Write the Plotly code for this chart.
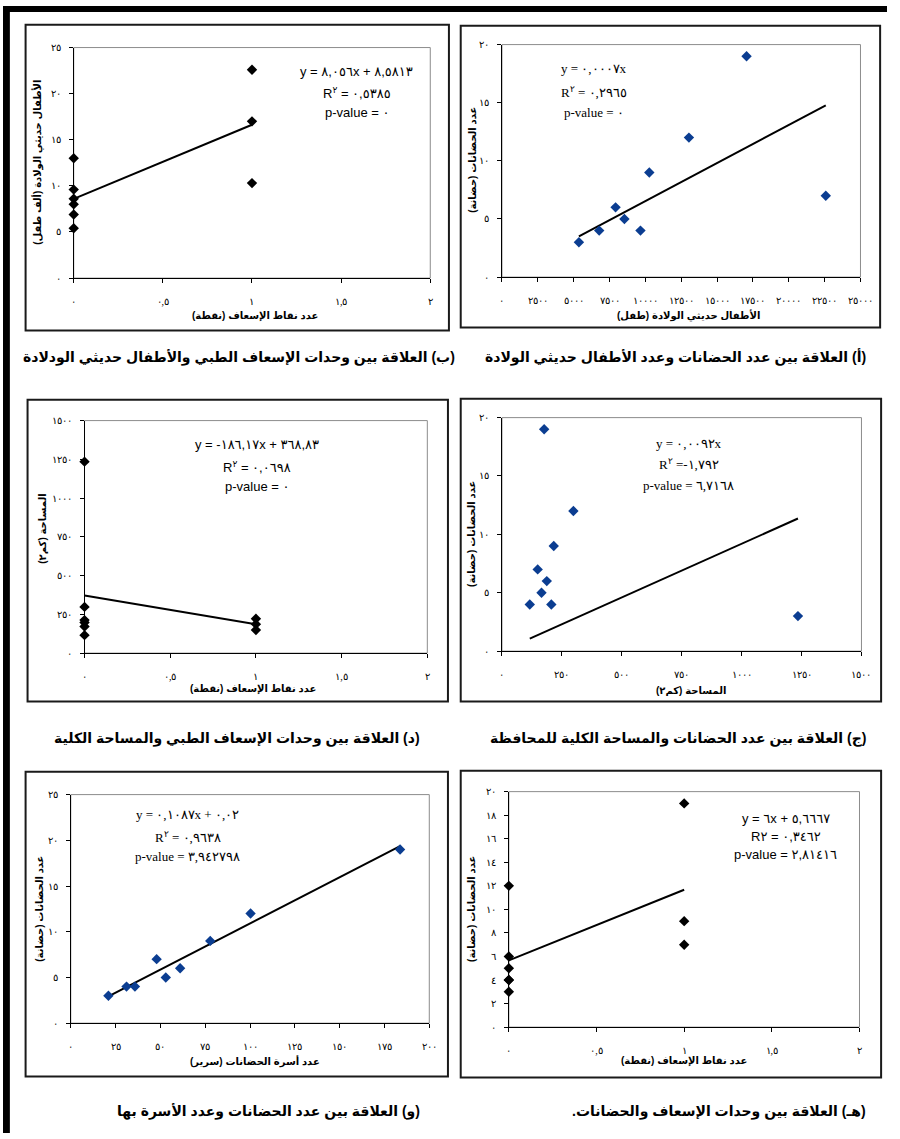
import numpy as np
import plotly.graph_objects as go

W, H = 900, 1139

# ---------------- data ----------------
# (أ) nurseries vs newborns
newborns_a = [5365, 6781, 7922, 8539, 9658, 10274, 13037, 17055, 22580]
nurseries_a = [3, 4, 6, 5, 4, 9, 12, 19, 7]
# (ب) ambulance points vs newborns (thousand)
ambulance_b = [0, 0, 0, 0, 0, 0, 1, 1, 1]
newborns_b = [13.0, 9.6, 8.6, 8.0, 6.9, 5.4, 22.6, 17.0, 10.3]
# (ج) nurseries vs area
area_c = [116, 149, 165, 176, 187, 206, 216, 298, 1235]
nurseries_c = [4, 7, 5, 19, 6, 4, 9, 12, 3]
# (د) ambulance points vs area
ambulance_d = [0, 0, 0, 0, 0, 0, 1, 1, 1]
area_d = [1235, 298, 213, 198, 172, 116, 222, 187, 149]
# (هـ) ambulance points vs nurseries
ambulance_e = [0, 0, 0, 0, 0, 0, 1, 1, 1]
nurseries_e = [12, 6, 5, 4, 4, 3, 19, 9, 7]
# (و) nurseries vs beds
beds_f = [21.0, 31.1, 35.8, 47.9, 53.0, 61.0, 77.8, 100.3, 183.7]
nurseries_f = [3, 4, 4, 7, 5, 6, 9, 12, 19]

# tick values / labels
ticks_newborns = [0, 2500, 5000, 7500, 10000, 12500, 15000, 17500, 20000, 22500, 25000]
labels_newborns = ["٠", "٢٥٠٠", "٥٠٠٠", "٧٥٠٠", "١٠٠٠٠", "١٢٥٠٠", "١٥٠٠٠", "١٧٥٠٠", "٢٠٠٠٠", "٢٢٥٠٠", "٢٥٠٠٠"]
ticks_amb = [0, 0.5, 1, 1.5, 2]
labels_amb = ["٠", "٠,٥", "١", "١,٥", "٢"]
ticks_20 = [0, 5, 10, 15, 20]
labels_20 = ["٠", "٥", "١٠", "١٥", "٢٠"]
ticks_25 = [0, 5, 10, 15, 20, 25]
labels_25 = ["٠", "٥", "١٠", "١٥", "٢٠", "٢٥"]
ticks_area = [0, 250, 500, 750, 1000, 1250, 1500]
labels_area = ["٠", "٢٥٠", "٥٠٠", "٧٥٠", "١٠٠٠", "١٢٥٠", "١٥٠٠"]
ticks_20b = [0, 2, 4, 6, 8, 10, 12, 14, 16, 18, 20]
labels_20b = ["٠", "٢", "٤", "٦", "٨", "١٠", "١٢", "١٤", "١٦", "١٨", "٢٠"]
ticks_beds = [0, 25, 50, 75, 100, 125, 150, 175, 200]
labels_beds = ["٠", "٢٥", "٥٠", "٧٥", "١٠٠", "١٢٥", "١٥٠", "١٧٥", "٢٠٠"]

# texts
RLM = "\u200f"
LRM = "\u200e"


def rtl(s):
    return RLM + s + RLM


captions = {
    "a": "(أ) العلاقة بين عدد الحضانات وعدد الأطفال حديثي الولادة",
    "b": "(ب) العلاقة بين وحدات الإسعاف الطبي والأطفال حديثي الودلادة",
    "c": "(ج) العلاقة بين عدد الحضانات والمساحة الكلية للمحافظة",
    "d": "(د) العلاقة بين وحدات الإسعاف الطبي والمساحة الكلية",
    "e": "(هـ) العلاقة بين وحدات الإسعاف والحضانات.",
    "f": "(و) العلاقة بين عدد الحضانات وعدد الأسرة بها",
}

BLUE = "#0B3D91"
SERIF = "Liberation Serif, Times New Roman, DejaVu Serif"
SANS = "Liberation Sans, Arial, DejaVu Sans"

panels = [
    dict(key="a", x=newborns_a, y=nurseries_a, origin=True, color=BLUE,
         plot=(508, 39, 873, 274), box=(466, 20, 893, 325),
         xr=25000, xt=ticks_newborns, xl=labels_newborns, yr=20, yt=ticks_20, yl=labels_20,
         xtitle="الأطفال حديثي الولادة (طفل)", xtpos=(698, 313),
         ytitle="عدد الحضانات (حضانة)", ytpos=(478, 156),
         eq=["y = ٠,٠٠٠٧x", "R<sup>٢</sup>" + LRM + " = ٠,٢٩٦٥", "p-value = ٠"],
         eqx=602, eqy=[63, 87, 108], eqfont=SERIF,
         cap_right=881, cap_y=355),
    dict(key="b", x=ambulance_b, y=newborns_b, origin=False, color="black",
         plot=(72, 42, 435, 275), box=(23, 19, 454, 328),
         xr=2, xt=ticks_amb, xl=labels_amb, yr=25, yt=ticks_25, yl=labels_25,
         xtitle="عدد نقاط الإسعاف (نقطة)", xtpos=(257, 313),
         ytitle="الأطفال حديثي الولادة (ألف طفل)", ytpos=(35, 158),
         eq=["y = ٨,٠٥٦x + ٨,٥٨١٣", "R<sup>٢</sup>" + LRM + " = ٠,٥٣٨٥", "p-value = ٠"],
         eqx=360, eqy=[66, 88, 108], eqfont=SANS,
         cap_right=462, cap_y=355),
    dict(key="c", x=area_c, y=nurseries_c, origin=True, color=BLUE,
         plot=(508, 416, 874, 652), box=(466, 397, 894, 703),
         xr=1500, xt=ticks_area, xl=labels_area, yr=20, yt=ticks_20, yl=labels_20,
         xtitle="المساحة (كم٢)", xtpos=(700, 692),
         ytitle="عدد الحضانات (حضانة)", ytpos=(477, 534),
         eq=["y = ٠,٠٠٩٢x", "R<sup>٢</sup>" + LRM + " =-١,٧٩٢", "p-value = ٦,٧١٦٨"],
         eqx=698, eqy=[442, 463, 485], eqfont=SERIF,
         cap_right=881, cap_y=740),
    dict(key="d", x=ambulance_d, y=area_d, origin=False, color="black",
         plot=(83, 419, 432, 654), box=(25, 398, 453, 703),
         xr=2, xt=ticks_amb, xl=labels_amb, yr=1500, yt=ticks_area, yl=labels_area,
         xtitle="عدد نقاط الإسعاف (نقطة)", xtpos=(255, 690),
         ytitle="المساحة (كم٢)", ytpos=(40, 528),
         eq=["y = -١٨٦,١٧x + ٣٦٨,٨٣", "R<sup>٢</sup>" + LRM + " = ٠,٠٦٩٨", "p-value = ٠"],
         eqx=259, eqy=[443, 466, 486], eqfont=SANS,
         cap_right=427, cap_y=740),
    dict(key="e", x=ambulance_e, y=nurseries_e, origin=False, color="black",
         plot=(515, 794, 872, 1032), box=(466, 773, 894, 1083),
         xr=2, xt=ticks_amb, xl=labels_amb, yr=20, yt=ticks_20b, yl=labels_20b,
         xtitle="عدد نقاط الإسعاف (نقطة)", xtpos=(693, 1066),
         ytitle="عدد الحضانات (حضانة)", ytpos=(477, 913),
         eq=["y = ٦x + ٥,٦٦٦٧", "R٢" + LRM + " = ٠,٣٤٦٢", "p-value = ٢,٨١٤١٦"],
         eqx=797, eqy=[821, 839, 858], eqfont=SANS,
         cap_right=881, cap_y=1117),
    dict(key="f", x=beds_f, y=nurseries_f, origin=False, color=BLUE,
         plot=(69, 797, 434, 1028), box=(23, 774, 453, 1082),
         xr=200, xt=ticks_beds, xl=labels_beds, yr=25, yt=ticks_25, yl=labels_25,
         xtitle="عدد أسرة الحضانات (سرير)", xtpos=(257, 1067),
         ytitle="عدد الحضانات (حضانة)", ytpos=(37, 912),
         eq=["y = ٠,١٠٨٧x + ٠,٠٢", "R<sup>٢</sup>" + LRM + " = ٠,٩٦٣٨", "p-value = ٣,٩٤٢٧٩٨"],
         eqx=188, eqy=[817, 840, 860], eqfont=SERIF,
         cap_right=427, cap_y=1117),
]

fig = go.Figure()
shapes = []
annotations = []
layout = {}

for i, p in enumerate(panels, start=1):
    sx = "" if i == 1 else str(i)
    xname, yname = "x" + sx, "y" + sx
    l, t, r, b = p["plot"]
    xs = np.array(p["x"], dtype=float)
    ys = np.array(p["y"], dtype=float)
    if p["origin"]:
        m = float((xs * ys).sum() / (xs * xs).sum())
        c0 = 0.0
    else:
        m, c0 = np.polyfit(xs, ys, 1)
    xline = np.array([xs.min(), xs.max()])
    yline = m * xline + c0

    fig.add_trace(go.Scatter(x=xline, y=yline, mode="lines",
                             line=dict(color="black", width=2),
                             xaxis=xname, yaxis=yname, showlegend=False,
                             hoverinfo="skip", cliponaxis=False))
    fig.add_trace(go.Scatter(x=xs, y=ys, mode="markers",
                             marker=dict(symbol="diamond", size=8, color=p["color"],
                                         line=dict(width=0)),
                             xaxis=xname, yaxis=yname, showlegend=False,
                             cliponaxis=False))

    layout["xaxis" + sx] = dict(
        domain=[l / W, r / W], range=[0, p["xr"]], anchor=yname,
        tickmode="array", tickvals=p["xt"], ticktext=p["xl"],
        showline=True, linecolor="black", linewidth=1, mirror=False,
        ticks="outside", ticklen=4, tickcolor="black", tickwidth=1,
        showgrid=False, zeroline=False, ticklabelstandoff=10,
        tickfont=dict(family=SERIF, size=10, color="black"))
    layout["yaxis" + sx] = dict(
        domain=[1 - b / H, 1 - t / H], range=[0, p["yr"]], anchor=xname,
        tickmode="array", tickvals=p["yt"], ticktext=p["yl"],
        showline=True, linecolor="black", linewidth=1, mirror=False,
        ticks="outside", ticklen=4, tickcolor="black", tickwidth=1,
        showgrid=False, zeroline=False, ticklabelstandoff=6,
        tickfont=dict(family=SERIF, size=10, color="black"))

    # plot-area frame (gray)
    shapes.append(dict(type="rect", xref=xname + " domain", yref=yname + " domain",
                       x0=0, y0=0, x1=1, y1=1, line=dict(color="#8c8c8c", width=1),
                       layer="below"))
    # panel box
    bl, bt, br, bb = p["box"]
    shapes.append(dict(type="rect", xref="paper", yref="paper",
                       x0=bl / W, x1=br / W, y0=1 - bb / H, y1=1 - bt / H,
                       line=dict(color="#1a1a1a", width=2)))

    # axis titles
    annotations.append(dict(xref="paper", yref="paper", x=p["xtpos"][0] / W,
                            y=1 - p["xtpos"][1] / H, text="<b>" + rtl(p["xtitle"]) + "</b>",
                            showarrow=False, xanchor="center", yanchor="middle",
                            font=dict(family=SANS, size=10, color="black")))
    annotations.append(dict(xref="paper", yref="paper", x=p["ytpos"][0] / W,
                            y=1 - p["ytpos"][1] / H, text="<b>" + rtl(p["ytitle"]) + "</b>",
                            showarrow=False, xanchor="center", yanchor="middle",
                            textangle=-90,
                            font=dict(family=SANS, size=10, color="black")))
    # equation / statistics
    for txt, yy in zip(p["eq"], p["eqy"]):
        annotations.append(dict(xref="paper", yref="paper", x=p["eqx"] / W,
                                y=1 - yy / H, text=txt, showarrow=False,
                                xanchor="center", yanchor="middle",
                                font=dict(family=p["eqfont"], size=13, color="black")))
    # caption
    annotations.append(dict(xref="paper", yref="paper", x=p["cap_right"] / W,
                            y=1 - p["cap_y"] / H, text="<b>" + rtl(captions[p["key"]]) + "</b>",
                            showarrow=False, xanchor="right", yanchor="middle",
                            font=dict(family=SANS, size=14, color="black")))

# outer page border (top and left thick bars)
shapes.append(dict(type="rect", xref="paper", yref="paper", x0=0, x1=1,
                   y0=1 - 6 / H, y1=1, fillcolor="black", line=dict(width=0)))
shapes.append(dict(type="rect", xref="paper", yref="paper", x0=0, x1=7 / W,
                   y0=0, y1=1, fillcolor="black", line=dict(width=0)))

fig.update_layout(
    width=W, height=H,
    margin=dict(l=0, r=0, t=0, b=0),
    paper_bgcolor="white", plot_bgcolor="white",
    shapes=shapes, annotations=annotations,
    showlegend=False,
    **layout,
)

post = (
    "document.documentElement.style.cssText='margin:0;padding:0;overflow:hidden;';"
    "document.body.style.cssText='margin:0;padding:0;overflow:hidden;';"
)

fig.write_html("out.html", config={"displayModeBar": False}, post_script=post)
